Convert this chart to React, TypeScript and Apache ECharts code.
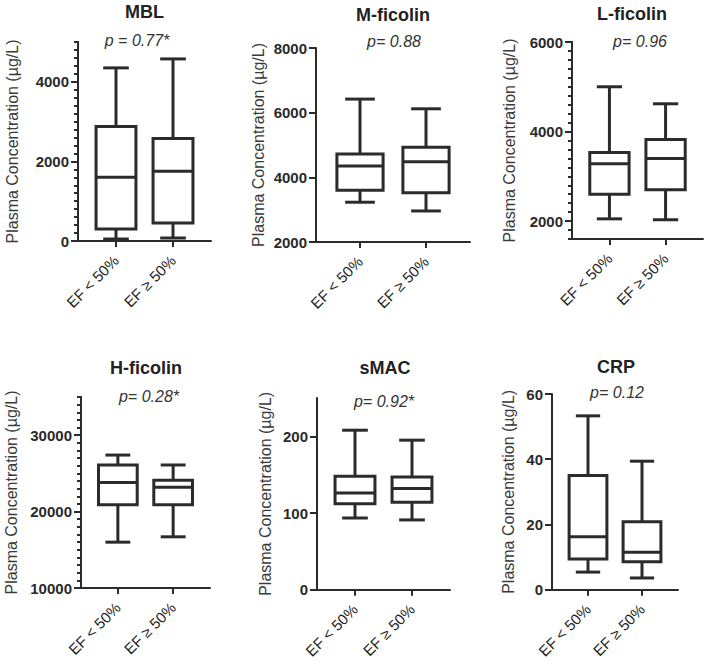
import React, { useEffect, useRef } from "react";
import * as echarts from "echarts";

// ---------- data ----------
const groups = ["EF < 50%", "EF ≥ 50%"];
const panelTitles = ["MBL", "M-ficolin", "L-ficolin", "H-ficolin", "sMAC", "CRP"];
const pLabels = ["p = 0.77*", "p= 0.88", "p= 0.96", "p= 0.28*", "p= 0.92*", "p= 0.12"];

// each box: [lower whisker, Q1, median, Q3, upper whisker]
const mblBoxes = [
  [50, 300, 1600, 2875, 4350],
  [75, 450, 1750, 2575, 4575],
];
const mFicolinBoxes = [
  [3230, 3600, 4350, 4720, 6420],
  [2960, 3520, 4480, 4930, 6120],
];
const lFicolinBoxes = [
  [2050, 2600, 3280, 3530, 5000],
  [2030, 2700, 3400, 3820, 4620],
];
const hFicolinBoxes = [
  [16000, 20900, 23800, 26100, 27400],
  [16700, 20900, 23200, 24100, 26100],
];
const sMacBoxes = [
  [93.5, 112, 126, 148, 208],
  [91, 114, 132, 147, 195],
];
const crpBoxes = [
  [5.4, 9.4, 16.2, 35, 53.3],
  [3.6, 8.6, 11.5, 20.8, 39.4],
];
const allBoxes = [mblBoxes, mFicolinBoxes, lFicolinBoxes, hFicolinBoxes, sMacBoxes, crpBoxes];

// y axis ranges and tick labels
const yMins = [0, 2000, 1600, 10000, 0, 0];
const yMaxs = [5000, 8000, 6000, 35000, 250, 60];
const yMajorTicks = [
  [0, 2000, 4000],
  [2000, 4000, 6000, 8000],
  [2000, 4000, 6000],
  [10000, 20000, 30000],
  [0, 100, 200],
  [0, 20, 40, 60],
];
const yMinorSteps = [200, 0, 200, 1000, 0, 0];

// ---------- layout ----------
const grids = [
  { left: 78, top: 42, width: 133, height: 199 },
  { left: 316, top: 48, width: 154, height: 194 },
  { left: 572, top: 42, width: 131, height: 197 },
  { left: 81, top: 397, width: 129, height: 191 },
  { left: 317, top: 398, width: 133, height: 193 },
  { left: 552, top: 394, width: 126, height: 197 },
];
const titlePos = [
  [144.5, 12], [393, 15], [632, 14], [146, 368], [385, 368], [616, 367],
];
const pPos = [
  [137, 40], [394, 41.5], [640, 41], [149, 396], [384, 401], [617, 392],
];
const nameGaps = [58, 50, 55, 62, 44, 36];

const FONT = "'Liberation Sans', Arial, Helvetica, sans-serif";
const INK = "#2b2b2b";

export default function App() {
  const ref = useRef<HTMLDivElement>(null);
  useEffect(() => {
    if (!ref.current) return;
    const chart = echarts.init(ref.current, null, { renderer: "svg" });

    const grid: any[] = [];
    const xAxis: any[] = [];
    const yAxis: any[] = [];
    const series: any[] = [];
    const graphic: any[] = [];

    allBoxes.forEach((boxes, i) => {
      const g = grids[i];
      grid.push({ left: g.left, top: g.top, width: g.width, height: g.height, containLabel: false });
      xAxis.push({
        gridIndex: i,
        type: "value",
        min: 1 / 3,
        max: 8 / 3,
        splitLine: { show: false },
        axisLine: { show: true, lineStyle: { color: INK, width: 2 } },
        axisTick: { show: true, customValues: [1, 2], length: 6, lineStyle: { color: INK, width: 2 } },
        axisLabel: {
          customValues: [1, 2],
          formatter: (v: number) => groups[Math.round(v) - 1] ?? "",
          rotate: 45,
          margin: 17,
          fontFamily: FONT,
          fontSize: 15,
          color: "#1f1f1f",
        },
      });
      const yMainIndex = yAxis.length;
      yAxis.push({
        gridIndex: i,
        type: "value",
        position: "left",
        min: yMins[i],
        max: yMaxs[i],
        name: "Plasma Concentration (µg/L)",
        nameLocation: "middle",
        nameGap: nameGaps[i],
        nameTextStyle: { fontFamily: FONT, fontSize: 16, color: "#3a3a3a" },
        splitLine: { show: false },
        axisLine: { show: true, lineStyle: { color: INK, width: 2 } },
        axisTick: { show: true, customValues: yMajorTicks[i], length: 7, lineStyle: { color: INK, width: 2 } },
        axisLabel: {
          customValues: yMajorTicks[i],
          formatter: (v: number) => String(v),
          margin: 9,
          fontFamily: FONT,
          fontWeight: "bold",
          fontSize: 15,
          color: "#2a2a2a",
        },
      });
      if (yMinorSteps[i] > 0) {
        const minorIndex = yAxis.length;
        yAxis.push({
          gridIndex: i,
          type: "value",
          position: "left",
          offset: 0,
          min: yMins[i],
          max: yMaxs[i],
          interval: yMinorSteps[i],
          splitLine: { show: false },
          axisLine: { show: true, lineStyle: { color: INK, width: 2 } },
          axisTick: { show: true, length: 4, lineStyle: { color: INK, width: 2 } },
          axisLabel: { show: false },
        });
        series.push({
          type: "custom",
          xAxisIndex: i,
          yAxisIndex: minorIndex,
          data: [],
          renderItem: () => ({ type: "group", children: [] }),
        });
      }
      series.push({
        type: "custom",
        xAxisIndex: i,
        yAxisIndex: yMainIndex,
        data: boxes.map((b, k) => [k + 1, ...b]),
        renderItem: (params: any, api: any) => {
          const x = api.value(0);
          const lo = api.coord([x, api.value(1)]);
          const q1 = api.coord([x, api.value(2)]);
          const med = api.coord([x, api.value(3)]);
          const q3 = api.coord([x, api.value(4)]);
          const hi = api.coord([x, api.value(5)]);
          const unit = api.size([1, 0])[0];
          const bw = unit * 0.7;
          const cw = unit * 0.45;
          const cx = lo[0];
          const st = { stroke: INK, lineWidth: 3, fill: null };
          return {
            type: "group",
            children: [
              { type: "line", shape: { x1: cx, y1: q3[1], x2: cx, y2: hi[1] }, style: st },
              { type: "line", shape: { x1: cx, y1: q1[1], x2: cx, y2: lo[1] }, style: st },
              { type: "line", shape: { x1: cx - cw / 2, y1: hi[1], x2: cx + cw / 2, y2: hi[1] }, style: st },
              { type: "line", shape: { x1: cx - cw / 2, y1: lo[1], x2: cx + cw / 2, y2: lo[1] }, style: st },
              {
                type: "rect",
                shape: { x: cx - bw / 2, y: q3[1], width: bw, height: q1[1] - q3[1] },
                style: { stroke: INK, lineWidth: 3, fill: "#ffffff" },
              },
              { type: "line", shape: { x1: cx - bw / 2, y1: med[1], x2: cx + bw / 2, y2: med[1] }, style: st },
            ],
          };
        },
      });
      graphic.push({
        type: "text",
        x: titlePos[i][0],
        y: titlePos[i][1],
        style: {
          text: panelTitles[i],
          font: `bold 18px ${FONT}`,
          fill: "#222",
          align: "center",
          verticalAlign: "middle",
          textAlign: "center",
          textVerticalAlign: "middle",
        },
      });
      graphic.push({
        type: "text",
        x: pPos[i][0],
        y: pPos[i][1],
        style: {
          text: pLabels[i],
          font: `italic 16px ${FONT}`,
          fill: "#333",
          align: "center",
          verticalAlign: "middle",
          textAlign: "center",
          textVerticalAlign: "middle",
        },
      });
    });

    chart.setOption({
      animation: false,
      backgroundColor: "#ffffff",
      grid,
      xAxis,
      yAxis,
      series,
      graphic,
    });
    return () => chart.dispose();
  }, []);
  return (
    <div
      ref={ref}
      style={{ position: "absolute", left: 0, top: 0, width: 709, height: 661 }}
    />
  );
}
